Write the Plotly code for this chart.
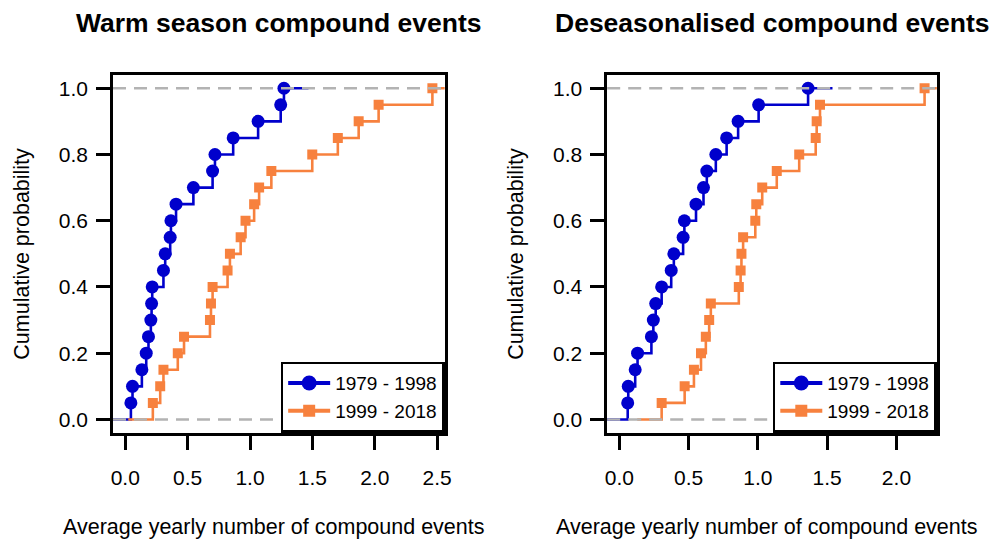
import plotly.graph_objects as go

# ---- data ----
panel_titles = ["Warm season compound events", "Deseasonalised compound events"]
series_names = ["1979 - 1998", "1999 - 2018"]
x_title = "Average yearly number of compound events"
y_title = "Cumulative probability"

warm_1979_1998 = [0.045, 0.058, 0.133, 0.168, 0.186, 0.205, 0.211, 0.216, 0.306, 0.320,
                  0.360, 0.366, 0.407, 0.546, 0.700, 0.719, 0.865, 1.065, 1.246, 1.272]
warm_1999_2018 = [0.221, 0.280, 0.306, 0.421, 0.471, 0.679, 0.687, 0.700, 0.820, 0.839,
                  0.925, 0.964, 1.033, 1.073, 1.171, 1.499, 1.704, 1.871, 2.031, 2.462]
deseas_1979_1998 = [0.060, 0.064, 0.114, 0.131, 0.231, 0.245, 0.262, 0.305, 0.374, 0.393,
                    0.460, 0.469, 0.553, 0.607, 0.631, 0.696, 0.774, 0.857, 1.005, 1.362]
deseas_1999_2018 = [0.305, 0.471, 0.538, 0.589, 0.624, 0.648, 0.660, 0.862, 0.875, 0.881,
                    0.893, 0.981, 0.988, 1.031, 1.136, 1.298, 1.417, 1.424, 1.448, 2.203]

x_ticks_left = [0.0, 0.5, 1.0, 1.5, 2.0, 2.5]
x_ticks_right = [0.0, 0.5, 1.0, 1.5, 2.0]
y_ticks = [0.0, 0.2, 0.4, 0.6, 0.8, 1.0]

# ---- styles ----
BLUE = "#0000CC"
ORANGE = "#F7813E"
GRAY = "#B3B3B3"
FONT = "Liberation Sans, Arial, sans-serif"
W, H = 998, 540

panels = [
    dict(data=[warm_1979_1998, warm_1999_2018], ticks=x_ticks_left,
         px=(112, 446.7), xa="x", ya="y", legend="legend"),
    dict(data=[deseas_1979_1998, deseas_1999_2018], ticks=x_ticks_right,
         px=(610.7, 943.3), xa="x2", ya="y2", legend="legend2"),
]
colors = [BLUE, ORANGE]
symbols = ["circle", "square"]
msizes = [13, 10]

py_top, py_bot = 75, 432.7

fig = go.Figure()
layout = dict(width=W, height=H, margin=dict(l=0, r=0, t=0, b=0),
              paper_bgcolor="white", plot_bgcolor="white",
              font=dict(family=FONT, color="black", size=20), shapes=[], annotations=[])

for k, p in enumerate(panels):
    xmax = max(max(d) for d in p["data"])
    xr = [0 - 0.04 * xmax, xmax + 0.04 * xmax]
    ext = 0.08 * xmax
    for j, d in enumerate(p["data"]):
        xs = sorted(d)
        n = len(xs)
        ys = [(i + 1) / n for i in range(n)]
        # step line (ECDF)
        fig.add_trace(go.Scatter(
            x=[xs[0] - ext] + xs + [xs[-1] + ext], y=[0] + ys + [1],
            mode="lines", line=dict(color=colors[j], width=2.6, shape="hv"),
            xaxis=p["xa"], yaxis=p["ya"], showlegend=False, hoverinfo="skip"))
        fig.add_trace(go.Scatter(
            x=xs, y=ys, mode="markers",
            marker=dict(color=colors[j], symbol=symbols[j], size=msizes[j], line=dict(width=0)),
            xaxis=p["xa"], yaxis=p["ya"], showlegend=False))
        # legend entry
        fig.add_trace(go.Scatter(
            x=[None], y=[None], mode="lines+markers", name=series_names[j],
            line=dict(color=colors[j], width=4),
            marker=dict(color=colors[j], symbol=symbols[j], size=msizes[j] + 2),
            xaxis=p["xa"], yaxis=p["ya"], legend=p["legend"], showlegend=True))
    dom = [p["px"][0] / W, p["px"][1] / W]
    xkey = "xaxis" if k == 0 else "xaxis2"
    ykey = "yaxis" if k == 0 else "yaxis2"
    layout[xkey] = dict(domain=dom, range=xr, tickvals=p["ticks"], tickformat=".1f",
                        showgrid=False, zeroline=False, showline=True, mirror=True,
                        linecolor="black", linewidth=2.5, ticks="outside", ticklen=15,
                        tickwidth=2.5, tickcolor="black", anchor=p["ya"],
                        ticklabelstandoff=9, tickfont=dict(size=21))
    layout[ykey] = dict(domain=[(H - py_bot) / H, (H - py_top) / H], range=[-0.04, 1.04],
                        tickvals=y_ticks, tickformat=".1f",
                        showgrid=False, zeroline=False, showline=True, mirror=True,
                        linecolor="black", linewidth=2.5, ticks="outside", ticklen=14,
                        tickwidth=2.5, tickcolor="black", anchor=p["xa"],
                        ticklabelstandoff=4, tickfont=dict(size=21))
    for yv in (0, 1):
        layout["shapes"].append(dict(
            type="line", xref=p["xa"] + " domain", yref=p["ya"], x0=0, x1=1, y0=yv, y1=yv,
            line=dict(color=GRAY, width=2.5, dash="13px,8px"), layer="above"))
    cx = (p["px"][0] + p["px"][1]) / 2 / W
    layout["annotations"].append(dict(
        text="<b>" + panel_titles[k] + "</b>", xref="paper", yref="paper",
        x=cx, y=(H - 23) / H, xanchor="center", yanchor="middle", showarrow=False,
        font=dict(size=26.5, family=FONT)))
    layout["annotations"].append(dict(
        text=x_title, xref="paper", yref="paper", x=cx - 5 / W, y=(H - 527) / H,
        xanchor="center", yanchor="middle", showarrow=False, font=dict(size=21.5, family=FONT)))
    layout["annotations"].append(dict(
        text=y_title, xref="paper", yref="paper", x=(p["px"][0] - 92) / W,
        y=(H - (py_top + py_bot) / 2) / H, xanchor="center", yanchor="middle",
        textangle=-90, showarrow=False, font=dict(size=21.5, family=FONT)))
    layout[p["legend"]] = dict(
        x=p["px"][1] / W, y=(H - py_bot) / H, xref="paper", yref="paper",
        xanchor="right", yanchor="bottom", bgcolor="white", bordercolor="black",
        borderwidth=2.5, font=dict(size=19, family=FONT), tracegroupgap=0, itemwidth=42)

fig.update_layout(**layout)
fig.write_html("out.html", config={"displayModeBar": False},
               post_script="document.body.style.margin='0';document.body.style.overflow='hidden';")
